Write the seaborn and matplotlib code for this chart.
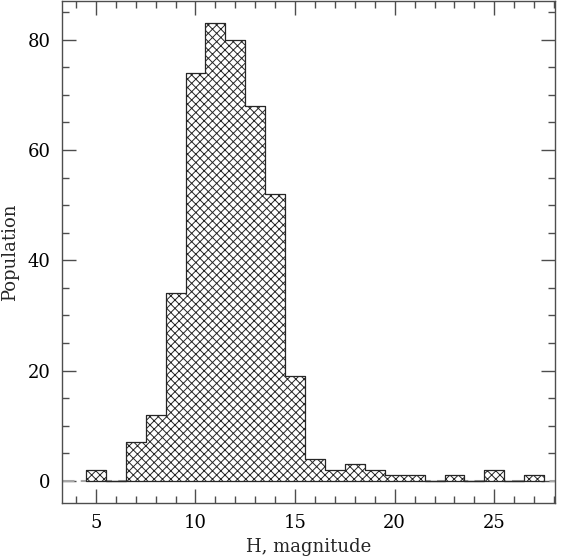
#Histogram of H magnitude population
import numpy as np
import pandas as pd
import matplotlib
matplotlib.use('Agg')
import matplotlib.pyplot as plt
import seaborn as sns
from matplotlib.ticker import MultipleLocator

#Counts per 1 mag bin, centred on integers
h_mag = [5, 6, 7, 8, 9, 10, 11, 12, 13, 14, 15, 16, 17, 18, 19, 20, 21, 22, 23, 24, 25, 26, 27]
population = [2, 0, 7, 12, 34, 74, 83, 80, 68, 52, 19, 4, 2, 3, 2, 1, 1, 0, 1, 0, 2, 0, 1]
bin_edges = list(np.arange(4.5, 28.5, 1.0))

df = pd.DataFrame({'H': h_mag, 'N': population})

sns.set_style('ticks')
plt.rcParams['font.family'] = ['DejaVu Serif']
plt.rcParams['hatch.linewidth'] = 0.7

fig = plt.figure(figsize=[5.67, 5.56], dpi=100)
ax = fig.add_axes([0.1093, 0.0953, 0.8697, 0.9027])

ax.axhline(0, color='0.65', lw=1.5, ls=(0, (6, 3)), zorder=1)
sns.histplot(data=df, x='H', weights='N', bins=bin_edges, element='step',
             fill=True, ax=ax, facecolor='white', edgecolor='0.15',
             hatch='xxxx', linewidth=0.9, alpha=1, zorder=2)

ax.set_xlim(3.3, 28.05)
ax.set_ylim(-4, 87)
ax.xaxis.set_major_locator(MultipleLocator(5))
ax.xaxis.set_minor_locator(MultipleLocator(1))
ax.yaxis.set_major_locator(MultipleLocator(20))
ax.yaxis.set_minor_locator(MultipleLocator(5))
ax.tick_params(which='both', direction='in', top=True, right=True, colors='0.3',
               labelcolor='black', labelsize=13, width=1)
ax.tick_params(which='major', length=10, pad=8)
ax.tick_params(which='minor', length=5)
for s in ax.spines.values():
    s.set_color('0.3')
    s.set_linewidth(1)

ax.set_xlabel('H, magnitude', fontsize=13, labelpad=4)
ax.set_ylabel('Population', fontsize=13, labelpad=6)

plt.savefig('out.png', dpi=100)
